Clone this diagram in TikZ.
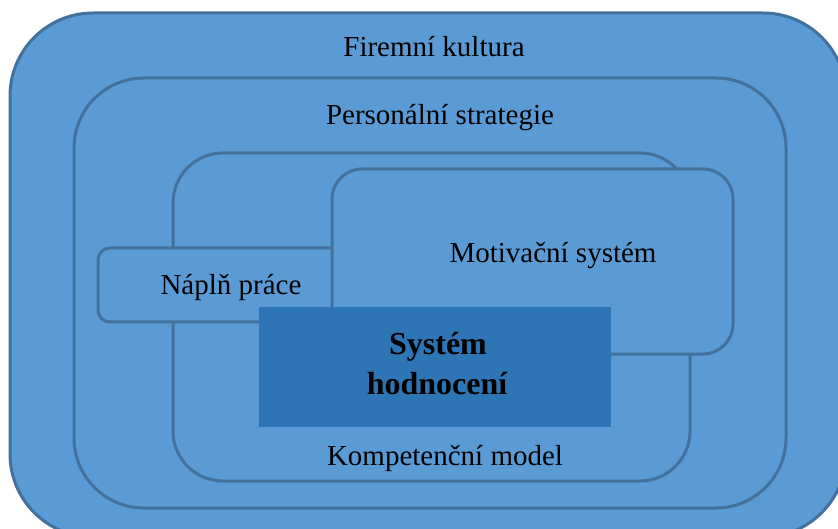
\documentclass[tikz,border=0pt]{standalone}
\usepackage{fontspec}
\setmainfont{Liberation Serif}
\definecolor{boxfill}{HTML}{5B9BD5}
\definecolor{boxline}{HTML}{41719C}
\definecolor{corefill}{HTML}{2E75B6}
\tikzset{
  layer/.style={draw=boxline, fill=boxfill, line width=3pt},
  core/.style={fill=corefill, draw=none},
  lbl/.style={anchor=base, inner sep=0pt, font=\fontsize{29}{39}\selectfont},
  corelbl/.style={anchor=base, inner sep=0pt, font=\fontsize{32}{39}\selectfont\bfseries}
}
\begin{document}
\begin{tikzpicture}[x=1pt, y=-1pt]
  \clip (0,0) rectangle (838,529);
  % nested layers, outermost first
  \draw[layer, rounded corners=83pt] (10,13) rectangle (846,537);
  \draw[layer, rounded corners=70pt] (74,78) rectangle (786,508);
  \draw[layer, rounded corners=50pt] (173,153) rectangle (690,481);
  \draw[layer, rounded corners=12pt] (98,248) rectangle (362,322);
  \draw[layer, rounded corners=30pt] (332,169) rectangle (733,354);
  \fill[core] (259,307) rectangle (611,427);
  % labels
  \node[lbl] (kultura) at (434,57) {Firemní kultura};
  \node[lbl] (strategie) at (440,125) {Personální strategie};
  \node[lbl] (motivace) at (553,263) {Motivační systém};
  \node[lbl] (napln) at (231,295) {Náplň práce};
  \node[lbl] (kompetence) at (445,465) {Kompetenční model};
  \node[corelbl] (system) at (438,355) {Systém};
  \node[corelbl] (hodnoceni) at (437,394) {hodnocení};
\end{tikzpicture}
\end{document}
